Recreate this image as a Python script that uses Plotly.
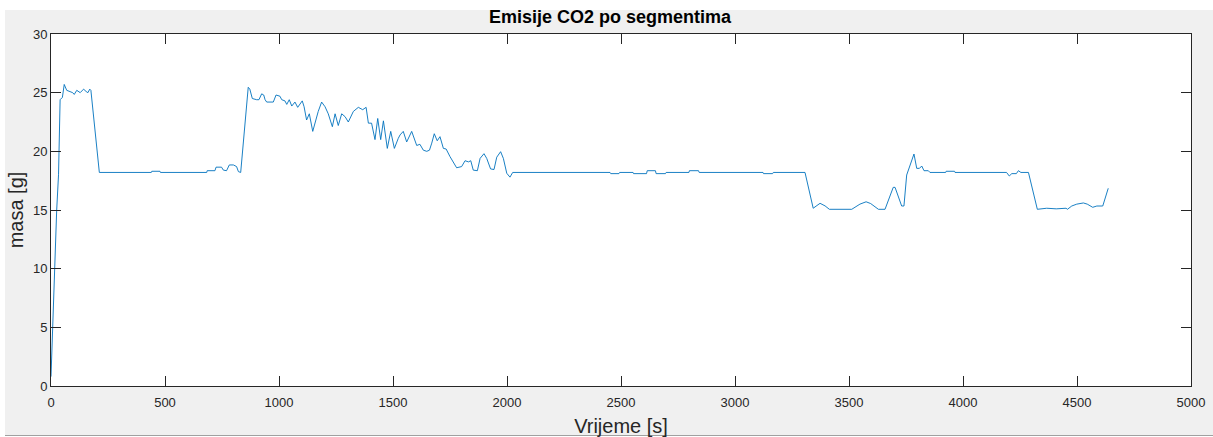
import plotly.graph_objects as go

# Time [s]
vrijeme = [
    0, 12, 25, 33, 40, 50, 58, 69, 82, 95, 102, 113, 128, 143, 154, 162, 170, 175,
    212, 440, 442, 478, 480, 683, 685, 719, 724, 748, 756, 770, 782, 800, 814, 822, 832,
    865, 872, 883, 902, 912, 924, 933, 939, 946, 975, 987, 1004, 1012, 1026, 1034, 1045,
    1056, 1070, 1082, 1102, 1110, 1121, 1133, 1148, 1162, 1172, 1187, 1202, 1216, 1234,
    1246, 1260, 1275, 1290, 1304, 1326, 1348, 1367, 1382, 1392, 1406, 1421, 1433, 1446,
    1458, 1475, 1490, 1506, 1523, 1531, 1545, 1560, 1582, 1596, 1604, 1618, 1633, 1648,
    1660, 1670, 1681, 1694, 1706, 1721, 1733, 1750, 1765, 1779, 1801, 1816, 1831, 1841,
    1852, 1870, 1882, 1899, 1911, 1928, 1943, 1955, 1972, 1984, 1999, 2013, 2025,
    2452, 2455, 2491, 2494, 2553, 2555, 2612, 2615, 2651, 2654, 2695, 2698, 2798, 2800,
    2840, 2843, 3123, 3125, 3165, 3168, 3307, 3343, 3373, 3395, 3414, 3512, 3548, 3575,
    3595, 3629, 3658, 3694, 3702, 3731, 3741, 3753, 3785, 3797, 3809, 3819, 3829, 3848,
    3855, 3924, 3926, 3963, 3965, 4191, 4203, 4214, 4234, 4243, 4254, 4287, 4326, 4367,
    4409, 4452, 4458, 4477, 4499, 4528, 4545, 4569, 4587, 4613, 4637,
]

# CO2 mass [g]
masa = [
    0.8, 8, 15, 18, 24.4, 24.6, 25.7, 25.2, 25.1, 25.0, 24.85, 25.2, 25.0, 25.3, 25.1, 25.0, 25.3, 25.2,
    18.2, 18.2, 18.3, 18.3, 18.2, 18.2, 18.35, 18.35, 18.65, 18.65, 18.4, 18.35, 18.84, 18.84, 18.7, 18.27, 18.2,
    25.46, 25.3, 24.5, 24.4, 24.4, 24.9, 24.8, 24.4, 24.2, 24.2, 24.8, 24.7, 24.4, 24.3, 24.0, 24.4,
    23.86, 24.2, 23.75, 24.3, 23.8, 22.67, 23.2, 21.7, 22.85, 23.4, 24.2, 23.8, 23.2, 22.1,
    23.2, 22.2, 23.2, 22.95, 22.5, 23.4, 23.75, 23.55, 23.75, 22.4, 22.4, 21.0, 22.8, 21.0,
    22.6, 20.25, 21.7, 20.25, 21.1, 21.4, 21.7, 20.8, 21.7, 20.8, 20.5, 20.6, 20.1, 20.0,
    20.1, 20.7, 21.5, 20.9, 21.25, 20.25, 20.2, 19.55, 19.0, 18.6, 18.7, 19.2, 19.1, 19.2,
    18.4, 18.35, 19.4, 19.8, 19.4, 18.5, 18.45, 19.5, 19.97, 19.4, 18.13, 17.8, 18.2,
    18.2, 18.1, 18.1, 18.2, 18.2, 18.1, 18.1, 18.35, 18.35, 18.1, 18.1, 18.2, 18.2, 18.35,
    18.35, 18.2, 18.2, 18.1, 18.1, 18.2, 18.2, 15.15, 15.57, 15.35, 15.06, 15.06, 15.5, 15.7,
    15.55, 15.06, 15.06, 16.93, 16.93, 15.34, 15.34, 17.98, 19.77, 18.55, 18.55, 18.75, 18.35, 18.35,
    18.2, 18.2, 18.3, 18.3, 18.2, 18.2, 17.9, 18.1, 18.1, 18.35, 18.2, 18.2, 15.06, 15.15,
    15.1, 15.15, 15.06, 15.34, 15.5, 15.6, 15.5, 15.23, 15.34, 15.34, 16.85,
]

x_ticks = [0, 500, 1000, 1500, 2000, 2500, 3000, 3500, 4000, 4500, 5000]
y_ticks = [0, 5, 10, 15, 20, 25, 30]

naslov = "Emisije CO2 po segmentima"
x_naziv = "Vrijeme [s]"
y_naziv = "masa [g]"

AX = "#262626"
FONT = "Liberation Sans, Arial, sans-serif"

fig = go.Figure()
fig.add_trace(go.Scatter(
    x=vrijeme, y=masa, mode="lines",
    line=dict(color="#0072BD", width=0.9),
    showlegend=False, hoverinfo="x+y",
))

axis_common = dict(
    showgrid=False, zeroline=False, automargin=False,
    showline=True, linecolor=AX, linewidth=1,
    mirror="ticks", ticks="inside", ticklen=10, tickwidth=1, tickcolor=AX,
    tickfont=dict(family=FONT, size=13, color=AX),
)

fig.update_layout(
    width=1213, height=437,
    margin=dict(l=51, r=22, t=34, b=51, autoexpand=False),
    paper_bgcolor="white", plot_bgcolor="white",
    title=dict(text="<b>" + naslov + "</b>", x=(610 - 51) / 1140, xref="paper", xanchor="center",
               y=1 - 17 / 437, yref="container", yanchor="middle", automargin=False,
               font=dict(family=FONT, size=18, color="black")),
    xaxis=dict(range=[0, 5000], tickvals=x_ticks, ticktext=[str(v) for v in x_ticks],
               ticklabelstandoff=4,
               title=dict(text=x_naziv, font=dict(family=FONT, size=20, color=AX), standoff=12),
               **axis_common),
    yaxis=dict(range=[0, 30], tickvals=y_ticks, ticktext=[str(v) for v in y_ticks],
               title=dict(text=y_naziv, font=dict(family=FONT, size=20, color=AX), standoff=3),
               **axis_common),
    shapes=[
        dict(type="rect", xref="paper", yref="paper",
             x0=-46 / 1140, x1=1162 / 1140, y0=-49 / 352, y1=376 / 352,
             fillcolor="#f0f0f0", line=dict(width=0), layer="below"),
        dict(type="line", xref="paper", yref="paper",
             x0=-46 / 1140, x1=1162 / 1140, y0=-49.5 / 352, y1=-49.5 / 352,
             line=dict(color="#a0a0a0", width=1), layer="below"),
        dict(type="rect", xref="x domain", yref="y domain",
             x0=0, x1=1, y0=0, y1=1,
             fillcolor="white", line=dict(width=0), layer="below"),
    ],
)

fig.write_html(
    "out.html",
    config={"displayModeBar": False},
    post_script="document.body.style.margin='0';document.body.style.overflow='hidden';",
)
